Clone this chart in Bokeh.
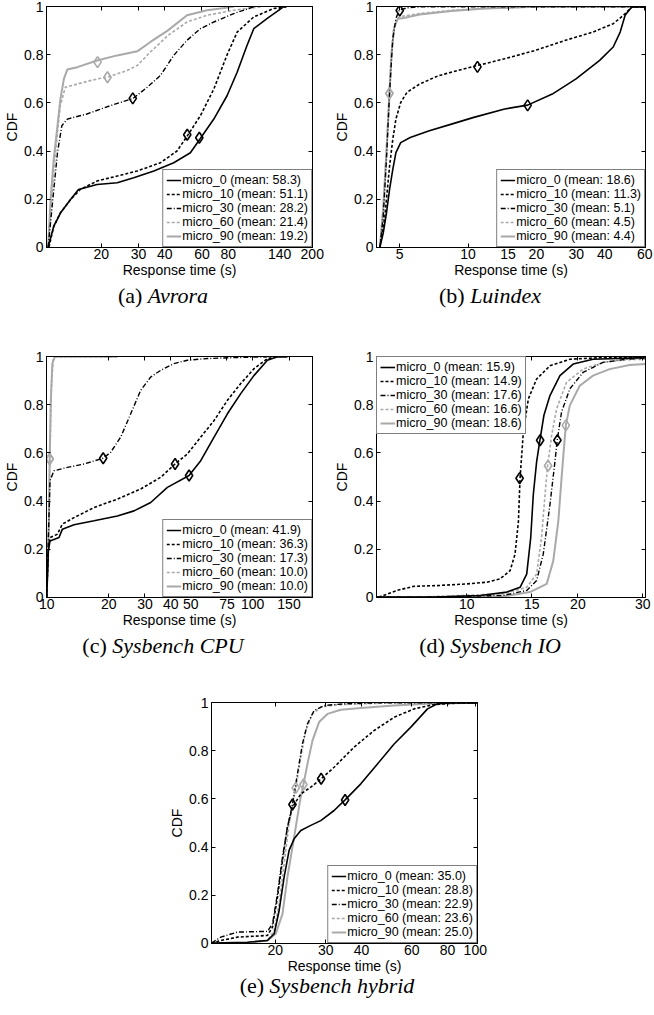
from bokeh.plotting import figure
from bokeh.models import (Range1d, FixedTicker, CustomJSTickFormatter, LogAxis, LinearAxis,
                          Legend, LegendItem, Div)
from bokeh.layouts import column, row
from bokeh.embed import file_html
from bokeh.resources import INLINE

SERIES = ["micro_0", "micro_10", "micro_30", "micro_60", "micro_90"]

# ---------------- (a) Avrora ----------------
avrora_ticks = [20, 30, 40, 60, 80, 140, 200]
avrora_means = [58.3, 51.1, 28.2, 21.4, 19.2]
avrora_x = {
    "micro_0": [11.2, 11.9, 12.8, 14.3, 15.6, 19.1, 23.8, 28.5, 35.5, 44.1, 52.9, 58.6, 68.3, 78.9, 88.1, 98.2, 105.6, 122, 146],
    "micro_10": [11.3, 11.9, 12.8, 14.3, 15.9, 19.1, 23.8, 29.6, 38.1, 45.7, 51.4, 59.0, 68.3, 78.9, 88.1, 105.6, 131, 152],
    "micro_30": [11.2, 11.7, 12.4, 13.0, 13.8, 17.1, 22.1, 28.3, 33.0, 38.1, 44.1, 51.0, 59.0, 68.3, 84.9, 105.6],
    "micro_60": [11.2, 11.5, 11.9, 12.4, 12.8, 13.5, 15.4, 19.1, 21.3, 26.5, 29.6, 34.2, 41.4, 51.0, 63.4, 84.9, 113.5],
    "micro_90": [11.2, 11.5, 11.9, 12.4, 12.8, 13.3, 13.8, 15.4, 19.1, 23.8, 29.6, 34.2, 41.4, 51.0, 63.4, 84.9],
}
avrora_y = {
    "micro_0": [0, 0.086, 0.142, 0.198, 0.24, 0.261, 0.268, 0.289, 0.317, 0.351, 0.393, 0.449, 0.533, 0.63, 0.728, 0.84, 0.909, 0.951, 1.0],
    "micro_10": [0, 0.086, 0.142, 0.198, 0.24, 0.275, 0.296, 0.317, 0.351, 0.40, 0.466, 0.547, 0.658, 0.80, 0.895, 0.958, 0.993, 1.0],
    "micro_30": [0, 0.17, 0.393, 0.505, 0.533, 0.554, 0.589, 0.619, 0.665, 0.714, 0.798, 0.861, 0.909, 0.937, 0.972, 1.0],
    "micro_60": [0, 0.142, 0.31, 0.477, 0.589, 0.665, 0.679, 0.70, 0.707, 0.735, 0.756, 0.812, 0.881, 0.937, 0.965, 0.986, 1.0],
    "micro_90": [0, 0.198, 0.365, 0.505, 0.616, 0.70, 0.739, 0.749, 0.777, 0.798, 0.815, 0.854, 0.902, 0.965, 0.986, 1.0],
}
avrora_mark_x = [58.3, 51.1, 28.2, 21.4, 19.2]
avrora_mark_y = [0.455, 0.468, 0.619, 0.707, 0.77]

# ---------------- (b) Luindex ----------------
luindex_ticks = [5, 10, 15, 20, 30, 40, 60]
luindex_means = [18.6, 11.3, 5.1, 4.5, 4.4]
luindex_x = {
    "micro_0": [4.09, 4.23, 4.37, 4.51, 4.66, 4.81, 5.05, 5.56, 6.75, 8.45, 10.6, 14.5, 18.3, 23.5, 29.9, 38.0, 43.6, 46.8, 49.2, 52.7, 60.5],
    "micro_10": [4.09, 4.30, 4.51, 4.66, 4.81, 5.05, 5.38, 6.12, 7.43, 9.02, 11.0, 14.5, 19.8, 26.9, 35.5, 43.6, 48.4, 52.7, 60.5],
    "micro_30": [4.09, 4.23, 4.37, 4.51, 4.66, 4.81, 4.97, 5.38, 6.12, 60.5],
    "micro_60": [4.09, 4.23, 4.37, 4.48, 4.58, 4.70, 4.89, 5.21, 6.12, 8.45, 11.8, 19.8, 60.5],
    "micro_90": [4.09, 4.23, 4.37, 4.51, 4.60, 4.73, 4.91, 5.21, 6.12, 8.45, 11.8, 19.8, 60.5],
}
luindex_y = {
    "micro_0": [0, 0.059, 0.142, 0.24, 0.324, 0.393, 0.435, 0.456, 0.484, 0.512, 0.54, 0.575, 0.591, 0.637, 0.70, 0.777, 0.833, 0.895, 0.965, 1.0, 1.0],
    "micro_10": [0, 0.128, 0.337, 0.449, 0.533, 0.602, 0.644, 0.679, 0.714, 0.735, 0.756, 0.784, 0.819, 0.861, 0.895, 0.93, 0.965, 1.0, 1.0],
    "micro_30": [0, 0.128, 0.365, 0.644, 0.867, 0.951, 0.986, 0.996, 1.0, 1.0],
    "micro_60": [0, 0.17, 0.407, 0.63, 0.80, 0.909, 0.954, 0.962, 0.972, 0.986, 0.993, 1.0, 1.0],
    "micro_90": [0, 0.163, 0.40, 0.637, 0.805, 0.916, 0.951, 0.954, 0.968, 0.983, 0.993, 1.0, 1.0],
}
luindex_mark_x = [18.3, 11.0, 5.0, 4.5, 4.5]
luindex_mark_y = [0.59, 0.75, 0.985, 0.64, 0.64]

# ---------------- (c) Sysbench CPU ----------------
cpu_ticks = [10, 20, 30, 40, 50, 75, 100, 150]
cpu_means = [41.9, 36.3, 17.3, 10.0, 10.0]
cpu_x = {
    "micro_0": [10.0, 10.19, 10.38, 11.48, 11.92, 13.57, 16.98, 22.03, 26.55, 31.98, 38.53, 49.08, 55.93, 64.91, 75.34, 87.45, 101.5, 117.8, 131.8, 147.3],
    "micro_10": [10.0, 10.19, 10.38, 11.27, 11.92, 13.57, 16.98, 22.03, 28.60, 35.76, 41.97, 48.17, 55.93, 64.91, 75.34, 87.45, 101.5, 117.8, 131.8],
    "micro_30": [10.0, 10.19, 10.38, 10.85, 12.60, 15.18, 18.77, 20.45, 22.87, 25.57, 28.60, 31.98, 35.76, 41.50, 48.17, 60.26, 81.20, 117.8],
    "micro_60": [10.0, 10.19, 10.38, 10.54, 10.77, 11.06, 22.03],
    "micro_90": [10.0, 10.15, 10.26, 10.34, 10.46, 10.65, 10.94, 22.03],
}
cpu_y = {
    "micro_0": [0, 0.192, 0.234, 0.248, 0.283, 0.301, 0.318, 0.338, 0.359, 0.394, 0.457, 0.506, 0.568, 0.666, 0.763, 0.847, 0.923, 0.986, 1.0, 1.0],
    "micro_10": [0, 0.206, 0.248, 0.262, 0.304, 0.331, 0.373, 0.408, 0.45, 0.499, 0.554, 0.596, 0.666, 0.735, 0.819, 0.889, 0.951, 0.993, 1.0],
    "micro_30": [0, 0.248, 0.485, 0.526, 0.54, 0.554, 0.578, 0.603, 0.666, 0.763, 0.861, 0.916, 0.944, 0.972, 0.986, 0.993, 0.997, 1.0],
    "micro_60": [0, 0.248, 0.596, 0.875, 0.993, 1.0, 1.0],
    "micro_90": [0, 0.178, 0.318, 0.568, 0.805, 0.972, 1.0, 1.0],
}
cpu_mark_x = [49.1, 42.0, 18.8, 10.34, 10.34]
cpu_mark_y = [0.506, 0.554, 0.578, 0.575, 0.575]

# ---------------- (d) Sysbench IO ----------------
io_ticks = [10, 15, 20, 30]
io_means = [15.9, 14.9, 17.6, 16.6, 18.6]
io_x = {
    "micro_0": [5.69, 8.30, 10.86, 12.83, 13.94, 14.53, 14.90, 15.14, 15.46, 15.78, 16.18, 16.80, 17.88, 19.42, 21.98, 30.5],
    "micro_10": [5.77, 6.47, 7.18, 8.30, 10.0, 11.32, 12.30, 13.10, 13.51, 13.80, 13.94, 14.23, 14.68, 15.46, 16.80, 19.02, 23.39, 30.5],
    "micro_30": [5.69, 7.48, 12.56, 14.53, 15.46, 16.11, 16.80, 17.33, 17.58, 18.06, 19.02, 20.65, 23.39, 27.04, 30.5],
    "micro_60": [5.69, 7.48, 12.56, 14.53, 15.46, 15.94, 16.29, 16.56, 16.98, 17.51, 18.63, 20.65, 23.39, 27.04, 30.5],
    "micro_90": [5.69, 12.56, 14.83, 16.46, 17.15, 17.70, 18.06, 18.36, 18.55, 19.02, 20.23, 21.98, 24.38, 27.61, 30.5],
}
io_y = {
    "micro_0": [0, 0, 0.007, 0.021, 0.041, 0.096, 0.248, 0.426, 0.564, 0.653, 0.757, 0.839, 0.922, 0.97, 0.99, 0.997],
    "micro_10": [0, 0.028, 0.045, 0.048, 0.055, 0.062, 0.076, 0.11, 0.179, 0.316, 0.495, 0.688, 0.825, 0.908, 0.963, 0.99, 0.997, 1.0],
    "micro_30": [0, 0, 0.007, 0.028, 0.069, 0.179, 0.385, 0.564, 0.653, 0.77, 0.867, 0.935, 0.977, 0.99, 0.995],
    "micro_60": [0, 0, 0.014, 0.041, 0.096, 0.248, 0.426, 0.547, 0.674, 0.784, 0.894, 0.949, 0.977, 0.988, 0.99],
    "micro_90": [0, 0.003, 0.021, 0.055, 0.151, 0.316, 0.495, 0.633, 0.715, 0.798, 0.88, 0.922, 0.949, 0.966, 0.97],
}
io_mark_x = [15.8, 13.9, 17.6, 16.6, 18.55]
io_mark_y = [0.653, 0.495, 0.653, 0.547, 0.715]

# ---------------- (e) Sysbench hybrid ----------------
hybrid_ticks = [20, 30, 40, 60, 80, 100]
hybrid_means = [35.0, 28.8, 22.9, 23.6, 25.0]
hybrid_x = {
    "micro_0": [11.96, 15.97, 18.77, 19.81, 20.62, 21.46, 22.34, 23.26, 24.55, 26.60, 28.83, 32.09, 35.06, 39.79, 45.50, 52.03, 59.52, 68.07, 73.76, 82.11, 101.8],
    "micro_10": [11.96, 12.89, 14.74, 18.77, 19.54, 20.34, 21.18, 22.04, 22.95, 24.55, 26.60, 28.91, 32.09, 37.71, 44.30, 52.03, 61.13, 71.81, 88.99, 101.8],
    "micro_30": [11.96, 12.89, 14.74, 18.77, 19.54, 20.34, 21.18, 22.04, 22.95, 23.89, 24.87, 25.90, 27.32, 29.62, 34.78, 45.50, 101.8],
    "micro_60": [15.55, 18.77, 19.81, 20.62, 21.46, 22.34, 23.57, 24.55, 25.55, 26.96, 28.83, 32.97, 39.79, 52.03, 101.8],
    "micro_90": [15.55, 18.77, 20.07, 21.18, 22.04, 23.26, 24.41, 25.07, 25.90, 26.96, 28.44, 30.42, 33.87, 39.79, 52.03, 68.07, 101.8],
}
hybrid_y = {
    "micro_0": [0, 0.004, 0.011, 0.039, 0.136, 0.275, 0.386, 0.434, 0.469, 0.49, 0.51, 0.552, 0.596, 0.663, 0.746, 0.829, 0.899, 0.975, 0.996, 1.0, 1.0],
    "micro_10": [0, 0.011, 0.025, 0.032, 0.067, 0.191, 0.344, 0.483, 0.566, 0.621, 0.649, 0.684, 0.732, 0.816, 0.885, 0.94, 0.975, 0.993, 1.0, 1.0],
    "micro_30": [0, 0.025, 0.046, 0.049, 0.08, 0.205, 0.358, 0.483, 0.577, 0.705, 0.829, 0.913, 0.968, 0.989, 0.996, 1.0, 1.0],
    "micro_60": [0, 0.011, 0.053, 0.164, 0.33, 0.497, 0.646, 0.774, 0.885, 0.954, 0.982, 0.992, 0.996, 1.0, 1.0],
    "micro_90": [0, 0.011, 0.039, 0.122, 0.275, 0.441, 0.594, 0.66, 0.746, 0.843, 0.92, 0.954, 0.971, 0.979, 0.989, 0.996, 1.0],
}
hybrid_mark_x = [35.06, 28.91, 22.95, 23.57, 25.07]
hybrid_mark_y = [0.596, 0.684, 0.577, 0.646, 0.66]

Y_TICKS = [0, 0.2, 0.4, 0.6, 0.8, 1.0]

BLACK = "#000000"
GRAY = "#a9a9a9"
STYLE = {
    "micro_0": dict(color=BLACK, dash="solid", width=1.6),
    "micro_10": dict(color=BLACK, dash="3 2", width=1.6),
    "micro_30": dict(color=BLACK, dash="5 2 1 2", width=1.4),
    "micro_60": dict(color=GRAY, dash="3 2", width=1.6),
    "micro_90": dict(color=GRAY, dash="solid", width=2.0),
}
FONT = "Liberation Sans"
FS = "14px"
LEG_FS = "12.5px"


def style_axis(ax):
    ax.major_tick_in = 4
    ax.major_tick_out = 0
    ax.minor_tick_in = 0
    ax.minor_tick_out = 0
    ax.axis_line_color = "black"
    ax.major_tick_line_color = "black"
    ax.major_label_text_font = FONT
    ax.major_label_text_font_size = FS
    ax.major_label_text_color = "black"
    ax.axis_label_text_font = FONT
    ax.axis_label_text_font_size = FS
    ax.axis_label_text_font_style = "normal"
    ax.axis_label_text_color = "black"


def blank_axis(ax):
    style_axis(ax)
    ax.formatter = CustomJSTickFormatter(code="return '';")
    ax.major_label_text_font_size = "0px"
    ax.major_label_standoff = 0
    ax.axis_label_standoff = 0
    ax.axis_label_text_font_size = "0px"


def make_panel(xr, xticks, xs, ys, mark_x, mark_y, means, legend_loc,
               width, height, bl, br, bt, bb):
    p = figure(width=width, height=height, x_axis_type="log",
               x_range=Range1d(*xr), y_range=Range1d(-0.0015, 1.0015),
               output_backend="svg", toolbar_location=None,
               min_border_left=bl, min_border_right=br,
               min_border_top=bt, min_border_bottom=bb)
    p.grid.visible = False
    p.outline_line_color = "black"
    p.outline_line_width = 1
    p.background_fill_color = "white"
    p.border_fill_color = "white"

    xa = p.xaxis[0]
    style_axis(xa)
    xa.ticker = FixedTicker(ticks=xticks)
    xa.formatter = CustomJSTickFormatter(code="return String(tick);")
    xa.major_label_standoff = 1
    xa.axis_label = "Response time (s)"
    xa.axis_label_standoff = 0

    ya = p.yaxis[0]
    style_axis(ya)
    ya.ticker = FixedTicker(ticks=Y_TICKS)
    ya.formatter = CustomJSTickFormatter(
        code="return tick == 0 ? '0' : (tick == 1 ? '1' : tick.toFixed(1));")
    ya.major_label_standoff = 3
    ya.axis_label = "CDF"
    ya.axis_label_standoff = 1

    top = LogAxis(ticker=FixedTicker(ticks=xticks))
    blank_axis(top)
    p.add_layout(top, "above")
    right = LinearAxis(ticker=FixedTicker(ticks=Y_TICKS))
    blank_axis(right)
    p.add_layout(right, "right")

    renderers = {}
    order = ["micro_90", "micro_60", "micro_30", "micro_10", "micro_0"]
    for name in order:
        st = STYLE[name]
        r = p.line(xs[name], ys[name], line_color=st["color"], line_width=st["width"],
                   line_dash=st["dash"])
        renderers[name] = r
    for i, name in enumerate(SERIES):
        st = STYLE[name]
        p.scatter([mark_x[i]], [mark_y[i]], marker="diamond", size=11,
                  line_color=st["color"], fill_alpha=0, line_width=1.6)

    items = [LegendItem(label="%s (mean: %.1f)" % (name, means[i]), renderers=[renderers[name]])
             for i, name in enumerate(SERIES)]
    leg = Legend(items=items, location=legend_loc)
    leg.border_line_color = "black"
    leg.border_line_width = 1.3
    leg.background_fill_color = "white"
    leg.background_fill_alpha = 1
    leg.label_text_font = FONT
    leg.label_text_font_size = LEG_FS
    leg.label_text_color = "black"
    leg.label_height = 14
    leg.glyph_height = 14
    leg.glyph_width = 15
    leg.label_standoff = 1
    leg.padding = 3
    leg.spacing = 0
    leg.margin = 0
    p.add_layout(leg)
    return p


def caption(letter, name, width, height, lh):
    return Div(text="(%s) <i>%s</i>" % (letter, name), width=width, height=height, margin=0,
               styles={"font-family": "'Liberation Serif', 'Times New Roman', serif",
                       "font-size": "22px", "text-align": "center",
                       "line-height": lh, "color": "black"})


pa = make_panel((11.0, 200.5), avrora_ticks, avrora_x, avrora_y, avrora_mark_x, avrora_mark_y,
                avrora_means, "bottom_right", 326, 280, 46, 14, 6, 33)
pb = make_panel((3.95, 60.5), luindex_ticks, luindex_x, luindex_y, luindex_mark_x, luindex_mark_y,
                luindex_means, "bottom_right", 328, 280, 50, 9, 6, 33)
pc = make_panel((9.98, 195), cpu_ticks, cpu_x, cpu_y, cpu_mark_x, cpu_mark_y,
                cpu_means, "bottom_right", 326, 321, 46, 14, 45, 35)
pd = make_panel((5.69, 30.5), io_ticks, io_x, io_y, io_mark_x, io_mark_y,
                io_means, "top_left", 328, 321, 50, 9, 45, 35)
pe = make_panel((11.96, 101.8), hybrid_ticks, hybrid_x, hybrid_y, hybrid_mark_x, hybrid_mark_y,
                hybrid_means, "bottom_right", 654, 317, 211, 177, 41, 35)

layout = column(
    row(pa, pb, spacing=0),
    row(caption("a", "Avrora", 326, 31, "32px"), caption("b", "Luindex", 328, 31, "32px"), spacing=0),
    row(pc, pd, spacing=0),
    row(caption("c", "Sysbench CPU", 326, 29, "28px"), caption("d", "Sysbench IO", 328, 29, "28px"), spacing=0),
    pe,
    caption("e", "Sysbench hybrid", 654, 26, "16px"),
    spacing=0,
)

open("out.html", "w").write(file_html(layout, INLINE))
